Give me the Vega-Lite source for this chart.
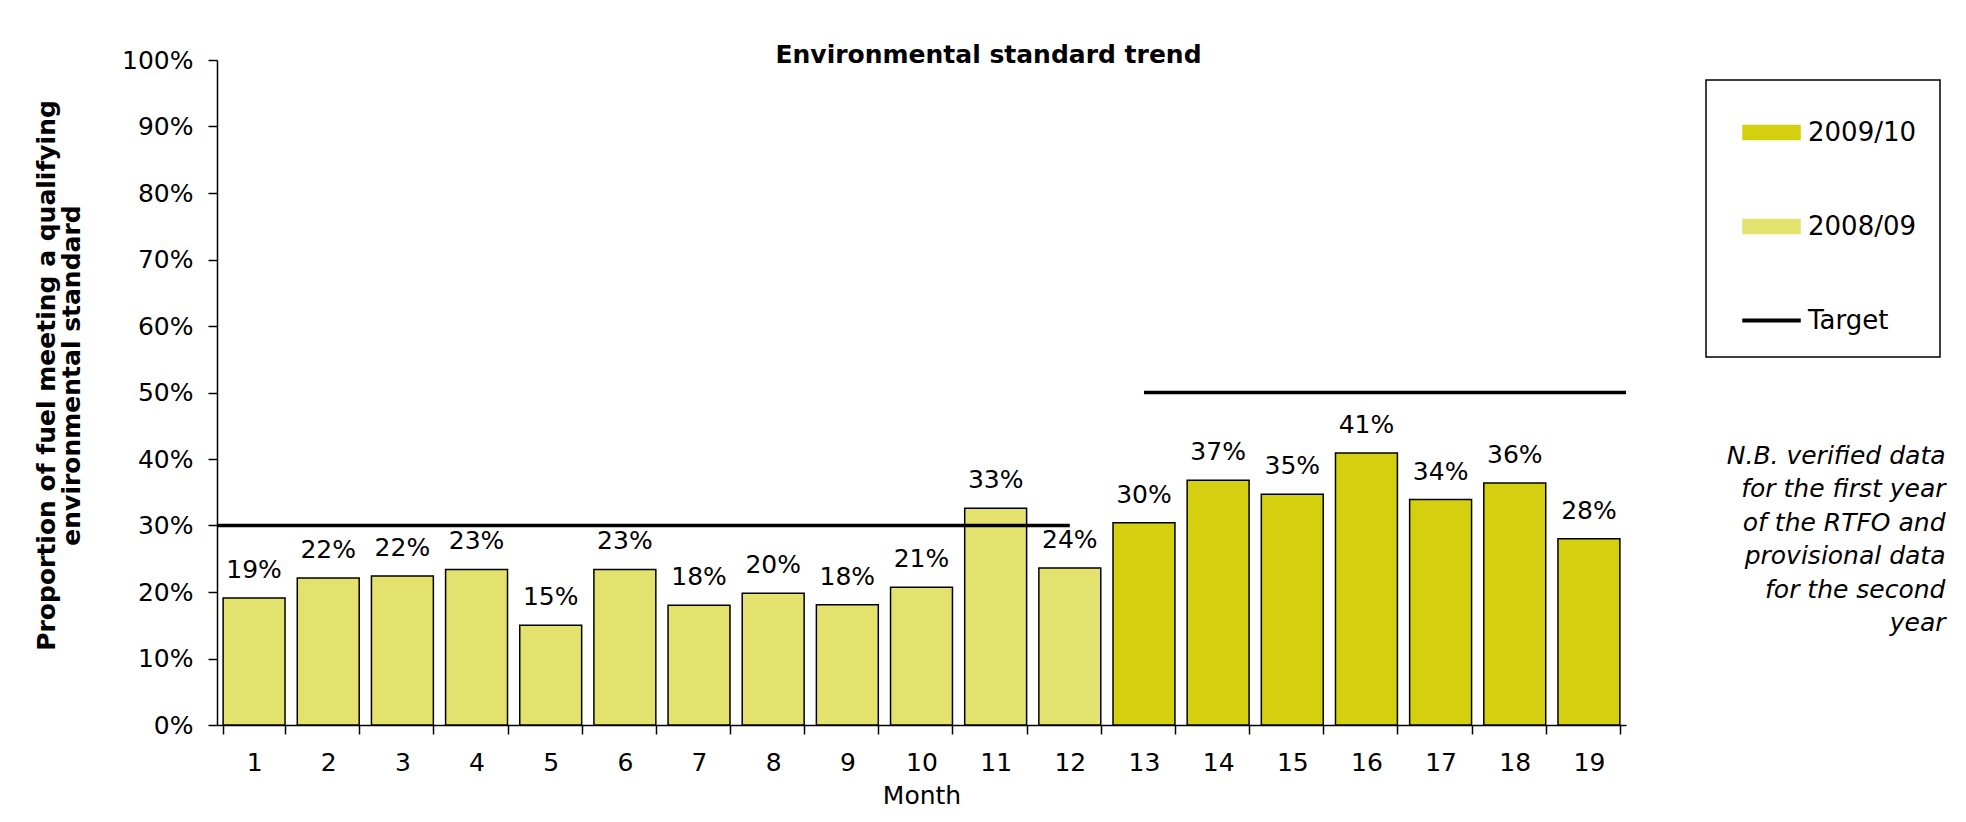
{
  "$schema": "https://vega.github.io/schema/vega-lite/v6.json",
  "autosize": {"type": "none"},
  "width": 1409,
  "height": 665,
  "padding": {"left": 217, "top": 60, "right": 340, "bottom": 97},
  "background": "white",
  "title": {
    "text": "Environmental standard trend",
    "fontSize": 25,
    "fontWeight": "bold",
    "color": "black",
    "anchor": "middle",
    "frame": "group",
    "baseline": "alphabetic",
    "offset": 0,
    "dx": 67,
    "dy": 40
  },
  "config": {
    "font": "DejaVu Sans",
    "view": {"stroke": null},
    "legend": {
      "orient": "none",
      "legendX": 1489,
      "legendY": 20,
      "direction": "vertical",
      "padding": 23,
      "symbolOffset": 13,
      "rowPadding": 51,
      "labelOffset": 7,
      "labelFontSize": 26,
      "labelColor": "black",
      "labelLimit": 300,
      "symbolSize": 3249,
      "symbolStrokeWidth": 1.5,
      "strokeColor": "black",
      "fillColor": "white"
    }
  },
  "datasets": {
    "months": [
      {"month": 1, "share": 0.191, "year": "2008/09"},
      {"month": 2, "share": 0.221, "year": "2008/09"},
      {"month": 3, "share": 0.224, "year": "2008/09"},
      {"month": 4, "share": 0.234, "year": "2008/09"},
      {"month": 5, "share": 0.150, "year": "2008/09"},
      {"month": 6, "share": 0.234, "year": "2008/09"},
      {"month": 7, "share": 0.180, "year": "2008/09"},
      {"month": 8, "share": 0.198, "year": "2008/09"},
      {"month": 9, "share": 0.181, "year": "2008/09"},
      {"month": 10, "share": 0.207, "year": "2008/09"},
      {"month": 11, "share": 0.326, "year": "2008/09"},
      {"month": 12, "share": 0.236, "year": "2008/09"},
      {"month": 13, "share": 0.304, "year": "2009/10"},
      {"month": 14, "share": 0.368, "year": "2009/10"},
      {"month": 15, "share": 0.347, "year": "2009/10"},
      {"month": 16, "share": 0.409, "year": "2009/10"},
      {"month": 17, "share": 0.339, "year": "2009/10"},
      {"month": 18, "share": 0.364, "year": "2009/10"},
      {"month": 19, "share": 0.280, "year": "2009/10"}
    ],
    "targets": [
      {"series": "Target", "period": "2008/09", "from": 0.5, "to": 12, "target": 0.3},
      {"series": "Target", "period": "2009/10", "from": 13, "to": 19.5, "target": 0.5}
    ]
  },
  "resolve": {"scale": {"x": "independent"}, "axis": {"y": "independent"}},
  "layer": [
    {
      "data": {"name": "months"},
      "mark": {"type": "bar", "stroke": "black", "strokeWidth": 1.5},
      "encoding": {
        "x": {
          "field": "month",
          "type": "ordinal",
          "scale": {"paddingInner": 0.165, "paddingOuter": 0.0825},
          "axis": {
            "title": "Month",
            "labelAngle": 0,
            "tickBand": "extent",
            "tickSize": 9,
            "labelPadding": 36,
            "labelBaseline": "alphabetic",
            "labelFontSize": 25,
            "labelColor": "black",
            "domainColor": "black",
            "tickColor": "black",
            "domainWidth": 1.5,
            "tickWidth": 1.5,
            "titleFontSize": 25,
            "titleFontWeight": "normal",
            "titleBaseline": "alphabetic",
            "titleY": 78,
            "titleColor": "black"
          }
        },
        "y": {
          "field": "share",
          "type": "quantitative",
          "scale": {"domain": [0, 1]},
          "axis": {
            "values": [0, 0.1, 0.2, 0.3, 0.4, 0.5, 0.6, 0.7, 0.8, 0.9, 1],
            "format": ".0%",
            "grid": false,
            "tickSize": 9,
            "labelPadding": 15,
            "labelFontSize": 25,
            "labelColor": "black",
            "domainColor": "black",
            "tickColor": "black",
            "domainWidth": 1.5,
            "tickWidth": 1.5,
            "title": ["Proportion of fuel meeting a qualifying", "environmental standard"],
            "titleFontSize": 25,
            "titleFontWeight": "bold",
            "titleColor": "black",
            "titleAngle": -90,
            "titleAlign": "center",
            "titleBaseline": "alphabetic",
            "titleX": -163,
            "titleY": 315,
            "titleLineHeight": 25
          }
        },
        "color": {
          "field": "year",
          "type": "nominal",
          "scale": {
            "domain": ["2009/10", "2008/09", "Target"],
            "range": ["#d4d010", "#e4e26e", "#000000"]
          },
          "legend": {
            "title": null,
            "encode": {
              "symbols": {
                "update": {
                  "shape": {"signal": "datum.value === 'Target' ? 'M-1,-0.045H1V0.045H-1Z' : 'M-1,-0.245H1V0.245H-1Z'"},
                  "size": {"value": 3249},
                  "fill": {"scale": "color", "field": "value"},
                  "stroke": {"value": "black"},
                  "strokeWidth": {"value": 1.5},
                  "opacity": {"value": 1},
                  "fillOpacity": {"value": 1}
                }
              },
              "legend": {"update": {"strokeWidth": {"value": 1.5}}}
            }
          }
        }
      }
    },
    {
      "data": {"name": "months"},
      "mark": {"type": "text", "baseline": "alphabetic", "dy": -20, "fontSize": 25, "color": "black"},
      "encoding": {
        "x": {
          "field": "month",
          "type": "ordinal",
          "scale": {"paddingInner": 0.165, "paddingOuter": 0.0825},
          "axis": null
        },
        "y": {
          "field": "share",
          "type": "quantitative",
          "axis": {
            "orient": "right",
            "labels": false,
            "ticks": false,
            "domain": false,
            "grid": false,
            "title": ["N.B. verified data", "for the first year", "of the RTFO and", "provisional data", "for the second", "year"],
            "titleAngle": 0,
            "titleAlign": "right",
            "titleBaseline": "alphabetic",
            "titleX": 319,
            "titleY": 403,
            "titleFontStyle": "italic",
            "titleFontWeight": "normal",
            "titleFontSize": 25,
            "titleLineHeight": 33.5,
            "titleColor": "black"
          }
        },
        "text": {"field": "share", "type": "quantitative", "format": ".0%"}
      }
    },
    {
      "data": {"name": "targets"},
      "mark": {"type": "rule", "strokeWidth": 3.5},
      "encoding": {
        "x": {
          "field": "from",
          "type": "quantitative",
          "scale": {"domain": [0.5, 19.5], "nice": false, "zero": false},
          "axis": null
        },
        "x2": {"field": "to"},
        "y": {"field": "target", "type": "quantitative", "axis": null},
        "color": {
          "field": "series",
          "type": "nominal",
          "legend": {
            "title": null,
            "encode": {
              "symbols": {
                "update": {
                  "shape": {"signal": "datum.value === 'Target' ? 'M-1,-0.045H1V0.045H-1Z' : 'M-1,-0.245H1V0.245H-1Z'"},
                  "size": {"value": 3249},
                  "fill": {"scale": "color", "field": "value"},
                  "stroke": {"value": "black"},
                  "strokeWidth": {"value": 1.5},
                  "opacity": {"value": 1},
                  "fillOpacity": {"value": 1}
                }
              },
              "legend": {"update": {"strokeWidth": {"value": 1.5}}}
            }
          }
        }
      }
    }
  ]
}
